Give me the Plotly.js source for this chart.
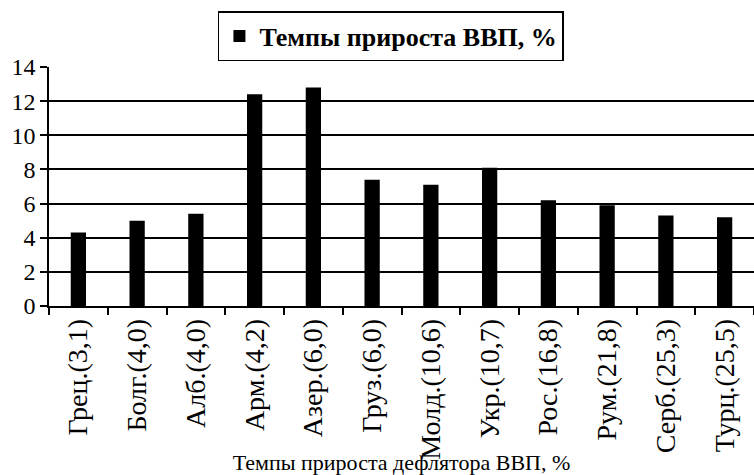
<!DOCTYPE html>
<html><head><meta charset="utf-8">
<script src="https://cdn.plot.ly/plotly-3.0.1.min.js"></script>
<style>body{margin:0;background:#fff}#c{width:754px;height:475px}</style>
</head><body><div id="c"></div>
<script>
const categories = ["Грец.(3,1)","Болг.(4,0)","Алб.(4,0)","Арм.(4,2)","Азер.(6,0)","Груз.(6,0)","Молд.(10,6)","Укр.(10,7)","Рос.(16,8)","Рум.(21,8)","Серб.(25,3)","Турц.(25,5)"];
const gdpGrowth = [4.3, 5.0, 5.4, 12.4, 12.8, 7.4, 7.1, 8.1, 6.2, 5.9, 5.3, 5.2];
const seriesName = "Темпы прироста ВВП, %";
const xTitle = "Темпы прироста дефлятора ВВП, %";
const yTicks = [0, 2, 4, 6, 8, 10, 12, 14];

const font = "Liberation Serif";
Plotly.newPlot("c", [{
  type: "bar", x: categories, y: gdpGrowth, name: seriesName,
  marker: {color: "#000"}, width: 0.26, showlegend: true
}], {
  width: 754, height: 475,
  margin: {l: 49, r: 0, t: 67, b: 169},
  paper_bgcolor: "#fff", plot_bgcolor: "#fff",
  font: {family: font, color: "#000", size: 21},
  showlegend: true,
  legend: {x: 0.485, xanchor: "center", y: 1.025, yanchor: "bottom",
    orientation: "h", bordercolor: "#000", borderwidth: 1.5, bgcolor: "#fff",
    font: {family: font, size: 26, color: "#000", weight: "bold"}},
  xaxis: {type: "category", tickson: "boundaries", ticks: "outside", ticklen: 7,
    tickwidth: 1.5, tickcolor: "#000", showline: true, linecolor: "#000", linewidth: 1.5,
    tickangle: -90, tickfont: {family: font, size: 28}, showgrid: false,
    title: {text: xTitle, font: {family: font, size: 22}, standoff: 0}},
  yaxis: {range: [0, 14], tickvals: yTicks, ticks: "outside", ticklen: 7, tickwidth: 1.5,
    tickcolor: "#000", showline: true, linecolor: "#000", linewidth: 1.5,
    showgrid: true, gridcolor: "#000", gridwidth: 1.5, zeroline: false,
    tickfont: {family: font, size: 24}}
}, {displayModeBar: false});
</script></body></html>
